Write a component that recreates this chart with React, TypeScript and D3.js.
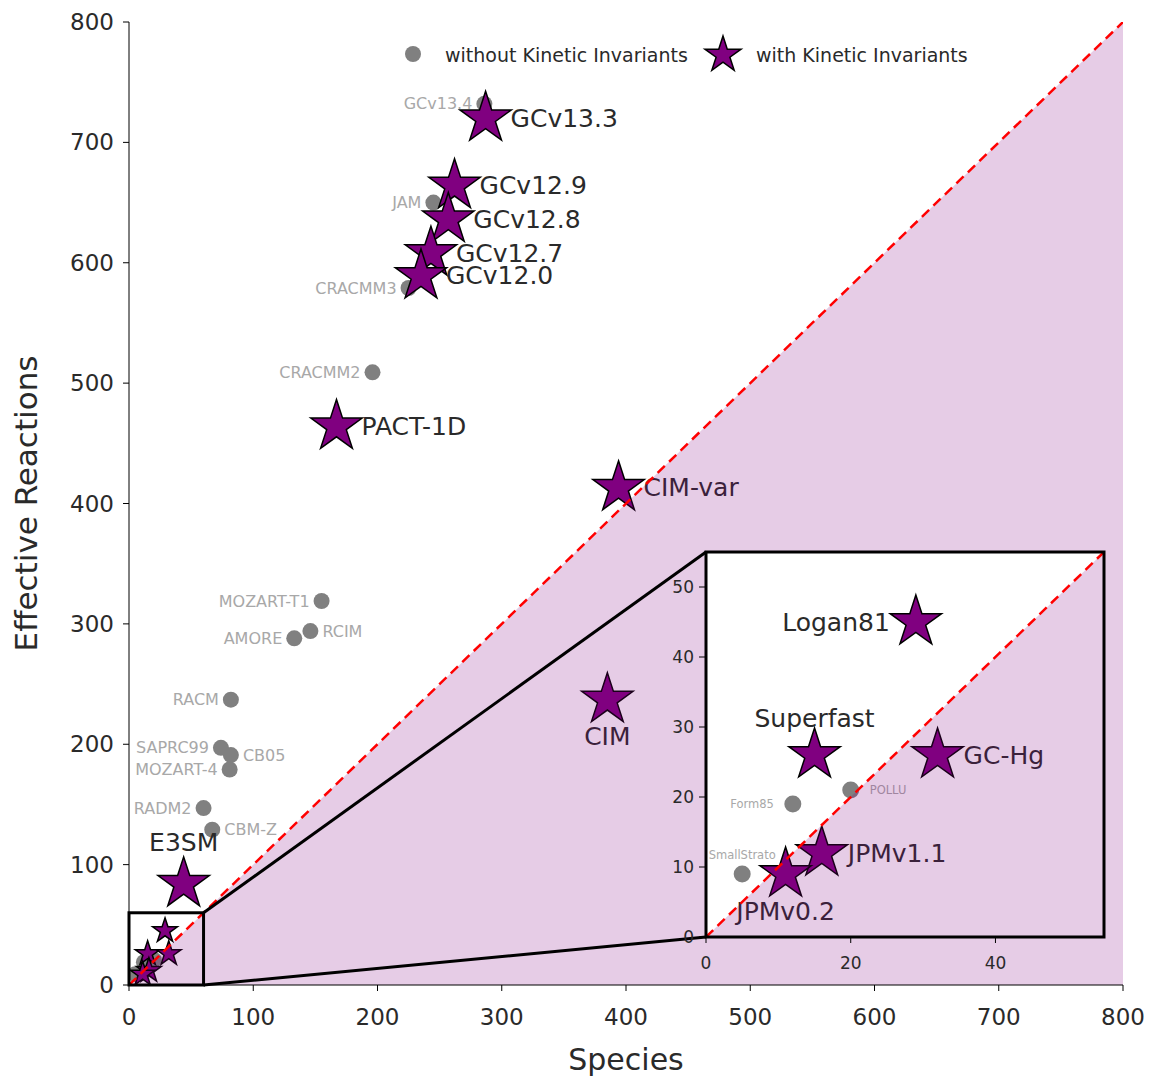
import React from "react";
import * as d3 from "d3";

// ---------- data ----------
const withoutNames = ["GCv13.4", "JAM", "CRACMM3", "CRACMM2", "MOZART-T1", "RCIM", "AMORE", "RACM", "SAPRC99", "CB05", "MOZART-4", "RADM2", "CBM-Z", "Form85", "POLLU", "SmallStrato"];
const withoutSpecies = [286, 245, 225, 196, 155, 146, 133, 82, 74, 82, 81, 60, 67, 12, 20, 5];
const withoutReactions = [732, 650, 579, 509, 319, 294, 288, 237, 197, 191, 179, 147, 129, 19, 21, 9];
const withoutLabelPos = ["left", "left", "left", "left", "left", "right", "left", "left", "left", "right", "left", "left", "right", "left", "right", "top"];

const withNames = ["GCv13.3", "GCv12.9", "GCv12.8", "GCv12.7", "GCv12.0", "PACT-1D", "CIM-var", "CIM", "E3SM", "Logan81", "Superfast", "GC-Hg", "JPMv1.1", "JPMv0.2"];
const withSpecies = [287, 262, 257, 243, 235, 167, 394, 385, 44, 29, 15, 32, 16, 11];
const withReactions = [720, 664, 636, 608, 589, 464, 413, 237, 84, 45, 26, 26, 12, 9];
const withLabelPos = ["right", "right", "right", "right", "right", "right", "right", "bottom", "top", "left", "top", "right", "right", "bottom"];

const xTicks = [0, 100, 200, 300, 400, 500, 600, 700, 800];
const yTicks = [0, 100, 200, 300, 400, 500, 600, 700, 800];
const insetXTicks = [0, 20, 40];
const insetYTicks = [0, 10, 20, 30, 40, 50];
const zoomLimit = 60; // zoom box in main axes
const insetLimit = 55; // inset axes range

const FONT = "'DejaVu Sans', Verdana, sans-serif";
const PURPLE = "#800080";
const TXT = "#2a2a2a";
const GRAYTXT = "#a8a8a8";

const starSize = (R: number) => (R * R) / 0.8908130915292852;
const starPath = (R: number) => d3.symbol(d3.symbolStar, starSize(R))() as string;

export default function App() {
  const W = 1149, H = 1078;
  const x = d3.scaleLinear().domain([0, 800]).range([129, 1123]);
  const y = d3.scaleLinear().domain([0, 800]).range([985, 22]);
  const xi = d3.scaleLinear().domain([0, insetLimit]).range([706, 1104]);
  const yi = d3.scaleLinear().domain([0, insetLimit]).range([937, 552]);

  const withData = withNames.map((n, i) => ({ n, sx: withSpecies[i], ry: withReactions[i], pos: withLabelPos[i] }));
  const withoutData = withoutNames.map((n, i) => ({ n, sx: withoutSpecies[i], ry: withoutReactions[i], pos: withoutLabelPos[i] }));

  const label = (
    px: number, py: number, text: string, pos: string, off: number, vOff: number,
    size: number, fill: string, key: string
  ) => {
    let tx = px, ty = py, anchor: "start" | "middle" | "end" = "start";
    if (pos === "right") { tx = px + off; anchor = "start"; }
    else if (pos === "left") { tx = px - off; anchor = "end"; }
    else if (pos === "top") { ty = py - vOff; anchor = "middle"; }
    else if (pos === "bottom") { ty = py + vOff; anchor = "middle"; }
    return (
      <text key={key} x={tx} y={ty} textAnchor={anchor} dominantBaseline="central" fontSize={size} fill={fill} fontFamily={FONT}>
        {text}
      </text>
    );
  };

  const bigR = 27, smallR = 13;
  const mainStarR = (d: { sx: number }) => (d.sx < 40 ? smallR : bigR);

  const fillMain = `M${x(0)},${y(0)} L${x(800)},${y(800)} L${x(800)},${y(0)} Z`;
  const fillInset = `M${xi(0)},${yi(0)} L${xi(insetLimit)},${yi(insetLimit)} L${xi(insetLimit)},${yi(0)} Z`;

  const inInset = (d: { sx: number; ry: number }) => d.sx <= insetLimit && d.ry <= insetLimit;

  return (
    <svg width={W} height={H} style={{ position: "absolute", left: 0, top: 0, background: "#fff" }} fontFamily={FONT}>
      <defs>
        <clipPath id="mainClip">
          <rect x={x(0)} y={y(800)} width={x(800) - x(0)} height={y(0) - y(800)} />
        </clipPath>
        <clipPath id="insetClip">
          <rect x={xi(0)} y={yi(insetLimit)} width={xi(insetLimit) - xi(0)} height={yi(0) - yi(insetLimit)} />
        </clipPath>
      </defs>

      {/* ---------- main plot ---------- */}
      <g clipPath="url(#mainClip)">
        {withoutData.map((d, i) => (
          <circle key={"wo" + i} cx={x(d.sx)} cy={y(d.ry)} r={8} fill="#808080" />
        ))}
        {withoutData.filter(d => d.sx >= 40).map((d, i) =>
          label(x(d.sx), y(d.ry), d.n, d.pos, 12, 18, 16, GRAYTXT, "wol" + i))}
        {withData.map((d, i) => (
          <path key={"w" + i} d={starPath(mainStarR(d))} transform={`translate(${x(d.sx)},${y(d.ry)})`} fill={PURPLE} stroke="#000" strokeWidth={1.5} />
        ))}
        {withData.filter(d => d.sx >= 40).map((d, i) =>
          label(x(d.sx), y(d.ry), d.n, d.pos, 25, d.pos === "top" ? 41 : 37, 25, TXT, "wl" + i))}
        <path d={fillMain} fill={PURPLE} fillOpacity={0.2} />
        <line x1={x(0)} y1={y(0)} x2={x(800)} y2={y(800)} stroke="red" strokeWidth={2.5} strokeDasharray="10,6" />
      </g>

      {/* axes */}
      <line x1={x(0)} y1={y(0)} x2={x(800)} y2={y(0)} stroke="#000" strokeWidth={1} />
      <line x1={x(0)} y1={y(0)} x2={x(0)} y2={y(800)} stroke="#000" strokeWidth={1} />
      {xTicks.map(t => (
        <g key={"xt" + t}>
          <line x1={x(t)} x2={x(t)} y1={y(0)} y2={y(0) + 6} stroke="#000" />
          <text x={x(t)} y={y(0) + 32} textAnchor="middle" dominantBaseline="central" fontSize={23} fill={TXT}>{t}</text>
        </g>
      ))}
      {yTicks.map(t => (
        <g key={"yt" + t}>
          <line x1={x(0) - 6} x2={x(0)} y1={y(t)} y2={y(t)} stroke="#000" />
          <text x={x(0) - 15} y={y(t)} dominantBaseline="central" textAnchor="end" fontSize={23} fill={TXT}>{t}</text>
        </g>
      ))}
      <text x={(x(0) + x(800)) / 2} y={1059} textAnchor="middle" dominantBaseline="central" fontSize={30} fill={TXT}>Species</text>
      <text transform={`translate(26,${(y(0) + y(800)) / 2}) rotate(-90)`} textAnchor="middle" dominantBaseline="central" fontSize={31} fill={TXT}>Effective Reactions</text>

      {/* legend */}
      <circle cx={413} cy={54} r={8} fill="#808080" />
      <text x={445} y={55} dominantBaseline="central" fontSize={19} fill={TXT}>without Kinetic Invariants</text>
      <path d={starPath(19)} transform="translate(723,55)" fill={PURPLE} stroke="#000" strokeWidth={1.5} />
      <text x={756} y={55} dominantBaseline="central" fontSize={19} fill={TXT}>with Kinetic Invariants</text>

      {/* zoom indicator */}
      <rect x={x(0)} y={y(zoomLimit)} width={x(zoomLimit) - x(0)} height={y(0) - y(zoomLimit)} fill="none" stroke="#000" strokeWidth={3} />
      <line x1={x(zoomLimit)} y1={y(zoomLimit)} x2={xi(0)} y2={yi(insetLimit)} stroke="#000" strokeWidth={3} />
      <line x1={x(zoomLimit)} y1={y(0)} x2={xi(0)} y2={yi(0)} stroke="#000" strokeWidth={3} />

      {/* ---------- inset ---------- */}
      <rect x={xi(0)} y={yi(insetLimit)} width={xi(insetLimit) - xi(0)} height={yi(0) - yi(insetLimit)} fill="#fff" />
      <g clipPath="url(#insetClip)">
        {withoutData.filter(inInset).map((d, i) => (
          <circle key={"iwo" + i} cx={xi(d.sx)} cy={yi(d.ry)} r={8.5} fill="#808080" />
        ))}
        {withoutData.filter(inInset).map((d, i) =>
          label(xi(d.sx), yi(d.ry), d.n, d.pos, 19, 19, 11.5, GRAYTXT, "iwol" + i))}
        {withData.filter(inInset).map((d, i) => (
          <path key={"iw" + i} d={starPath(bigR)} transform={`translate(${xi(d.sx)},${yi(d.ry)})`} fill={PURPLE} stroke="#000" strokeWidth={1.5} />
        ))}
        {withData.filter(inInset).map((d, i) =>
          label(xi(d.sx), yi(d.ry), d.n, d.pos, 26, 37, 25, TXT, "iwl" + i))}
        <path d={fillInset} fill={PURPLE} fillOpacity={0.2} />
        <line x1={xi(0)} y1={yi(0)} x2={xi(insetLimit)} y2={yi(insetLimit)} stroke="red" strokeWidth={2.5} strokeDasharray="10,6" />
      </g>
      <rect x={xi(0)} y={yi(insetLimit)} width={xi(insetLimit) - xi(0)} height={yi(0) - yi(insetLimit)} fill="none" stroke="#000" strokeWidth={3} />
      {insetXTicks.map(t => (
        <g key={"ixt" + t}>
          <line x1={xi(t)} x2={xi(t)} y1={yi(0)} y2={yi(0) + 6} stroke="#000" />
          <text x={xi(t)} y={yi(0) + 26} textAnchor="middle" dominantBaseline="central" fontSize={17} fill={TXT}>{t}</text>
        </g>
      ))}
      {insetYTicks.map(t => (
        <g key={"iyt" + t}>
          <line x1={xi(0) - 7} x2={xi(0)} y1={yi(t)} y2={yi(t)} stroke="#000" />
          <text x={xi(0) - 12} y={yi(t)} dominantBaseline="central" textAnchor="end" fontSize={17} fill={TXT}>{t}</text>
        </g>
      ))}
    </svg>
  );
}
